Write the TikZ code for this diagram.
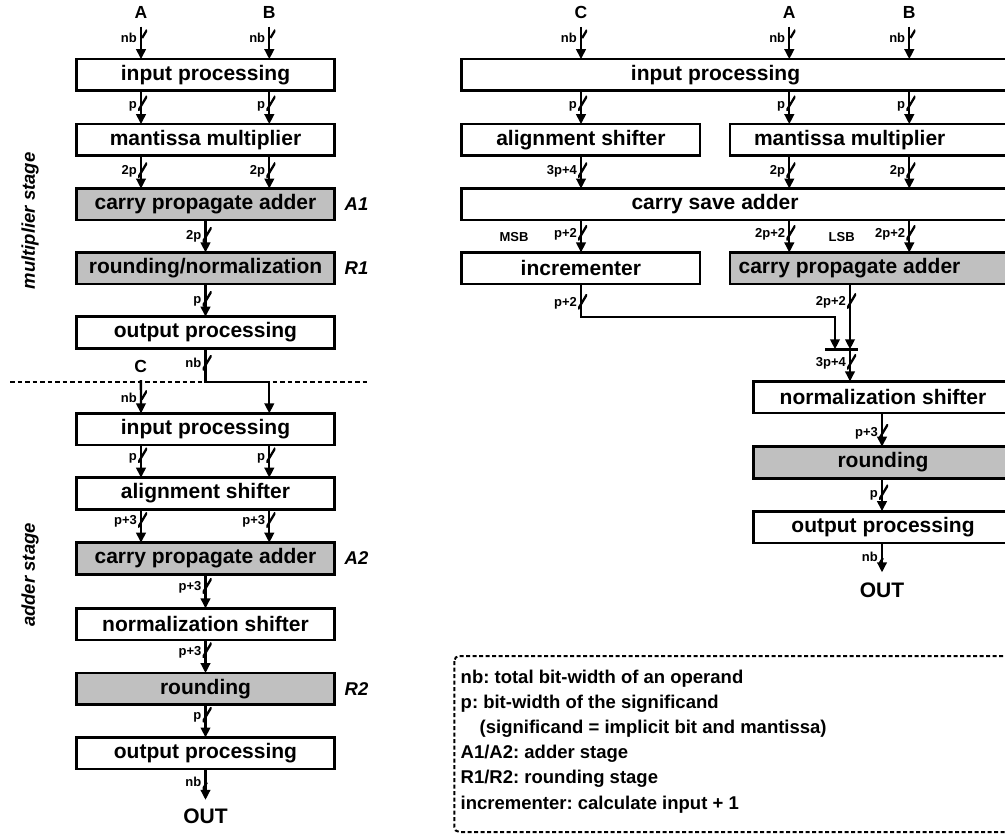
\documentclass[tikz,border=0pt]{standalone}
\usepackage{fontspec}
\setmainfont{Liberation Sans}
\usetikzlibrary{arrows.meta}
\definecolor{stagegray}{RGB}{192,192,192}
\frenchspacing
\tikzset{
  blk/.style={draw, line width=2.6, minimum height=31.6, inner sep=0, outer sep=0,
    font=\fontsize{21}{24}\selectfont\bfseries},
  blkL/.style={blk, minimum width=257.6},
  stagebox/.style={fill=stagegray},
  wire/.style={line width=2.3, -{Triangle[length=10pt,width=9.5pt]}},
  buslbl/.style={font=\fontsize{13}{15}\selectfont\bfseries, text height=9.5, text depth=0, inner sep=0},
  bus/.style={minimum width=9, minimum height=15, inner sep=0, outer sep=0, xshift=1.5,
    path picture={\draw[-, line width=2.3] (path picture bounding box.south west) -- (path picture bounding box.north east);},
    label distance=5, label={[buslbl]left:#1}},
  port/.style={font=\fontsize{17.5}{20}\selectfont\bfseries, inner sep=0},
  outlbl/.style={font=\fontsize{21}{24}\selectfont\bfseries, inner sep=0},
  stagetag/.style={font=\fontsize{18.5}{22}\selectfont\bfseries\itshape, inner sep=0},
  side/.style={font=\fontsize{13}{15}\selectfont\bfseries, inner sep=0},
  sep/.style={line width=2.2, dash pattern=on 4.5pt off 3pt},
  legendbox/.style={line width=2, dash pattern=on 4pt off 2.5pt, rounded corners=5},
  legendtxt/.style={font=\fontsize{18.5}{25.2}\selectfont\bfseries, align=left, inner sep=0},
}
\begin{document}
\begin{tikzpicture}[x=1pt, y=1pt]
\useasboundingbox (0,0) rectangle (1005,-834);
\clip (0,0) rectangle (1005,-834);

% ---------- left: multiplier stage ----------
\node[blkL] (ipA) at (205.5,-75) {input processing};
\node[blkL] (mmA) at (205.5,-140) {mantissa multiplier};
\node[blkL,stagebox] (cpaA) at (205.5,-204.4) {carry propagate adder};
\node[blkL,stagebox] (rnA) at (205.5,-268.3) {rounding/normalization};
\node[blkL] (opA) at (205.5,-332.5) {output processing};
% ---------- left: adder stage ----------
\node[blkL] (ipB) at (205.5,-429.2) {input processing};
\node[blkL] (asB) at (205.5,-493.5) {alignment shifter};
\node[blkL,stagebox] (cpaB) at (205.5,-558.5) {carry propagate adder};
\node[blkL] (nsB) at (205.5,-624.2) {normalization shifter};
\node[blkL,stagebox] (rdB) at (205.5,-688.9) {rounding};
\node[blkL] (opB) at (205.5,-753.3) {output processing};

% ---------- right: fused datapath ----------
\node[blk, minimum width=558.3] (ipR) at (740.85,-75) {input processing\hspace*{50.7pt}};
\node[blk, minimum width=238.3] (asR) at (580.85,-140) {alignment shifter};
\node[blk, minimum width=290] (mmR) at (875,-140) {mantissa multiplier\hspace*{50.6pt}};
\node[blk, minimum width=558.3] (csa) at (740.85,-204.4) {carry save adder\hspace*{51.7pt}};
\node[blk, minimum width=238.3] (inc) at (580.85,-268.3) {incrementer};
\node[blk,stagebox, minimum width=290] (cpaR) at (875,-268.3) {carry propagate adder\hspace*{51pt}};
\node[blk, minimum width=266.7] (nsR) at (886.65,-397.2) {normalization shifter\hspace*{7.3pt}};
\node[blk,stagebox, minimum width=266.7] (rdR) at (886.65,-462.5) {rounding\hspace*{7.3pt}};
\node[blk, minimum width=266.7] (opR) at (886.65,-527) {output processing\hspace*{7.3pt}};

% ---------- ports ----------
\node[port] (inA) at (141,-12.5) {A};
\node[port] (inB) at (269.3,-12.5) {B};
\node[port] (inC) at (140.8,-366.7) {C};
\node[outlbl] (outL) at (205.5,-816.5) {OUT};
\node[port] (rC) at (581,-12.5) {C};
\node[port] (rA) at (789.3,-12.5) {A};
\node[port] (rB) at (909.3,-12.5) {B};
\node[outlbl] (outR) at (882,-590) {OUT};

% ---------- stage tags ----------
\node[stagetag] (tA1) at (356.5,-204.4) {A1};
\node[stagetag] (tR1) at (356.5,-268.3) {R1};
\node[stagetag] (tA2) at (356.5,-558.5) {A2};
\node[stagetag] (tR2) at (356.5,-688.9) {R2};
\node[stagetag, rotate=90] (mstage) at (30,-221) {multiplier stage};
\node[stagetag, rotate=90] (astage) at (30,-575) {adder stage};

% column positions
\coordinate (xa) at (141,0);
\coordinate (xb) at (269.3,0);
\coordinate (xc) at (581,0);
\coordinate (xra) at (789.3,0);
\coordinate (xrb) at (909.3,0);
\coordinate (xn) at (882,0);

% ---------- left wiring ----------
\draw[wire, shorten <=8] (inA) -- node[bus=nb,pos=.46]{} (ipA.north -| xa);
\draw[wire, shorten <=8] (inB) -- node[bus=nb,pos=.46]{} (ipA.north -| xb);
\draw[wire] (ipA.south -| xa) -- node[bus=p,pos=.38]{} (mmA.north -| xa);
\draw[wire] (ipA.south -| xb) -- node[bus=p,pos=.38]{} (mmA.north -| xb);
\draw[wire] (mmA.south -| xa) -- node[bus=2p,pos=.44]{} (cpaA.north -| xa);
\draw[wire] (mmA.south -| xb) -- node[bus=2p,pos=.44]{} (cpaA.north -| xb);
\draw[wire] (cpaA) -- node[bus=2p,pos=.45]{} (rnA);
\draw[wire] (rnA) -- node[bus=p,pos=.45]{} (opA);
\coordinate (hop) at (205.5,-381.7);
\draw[wire] (opA) -- node[bus=nb,pos=.43]{} (hop) -| (ipB.north -| xb);
\draw[sep] (10,-381.7) -- (368,-381.7);
\draw[wire, shorten <=7] (inC) -- node[bus=nb,pos=.62]{} (ipB.north -| xa);
\draw[wire] (ipB.south -| xa) -- node[bus=p,pos=.32]{} (asB.north -| xa);
\draw[wire] (ipB.south -| xb) -- node[bus=p,pos=.32]{} (asB.north -| xb);
\draw[wire] (asB.south -| xa) -- node[bus=p+3,pos=.32]{} (cpaB.north -| xa);
\draw[wire] (asB.south -| xb) -- node[bus=p+3,pos=.32]{} (cpaB.north -| xb);
\draw[wire] (cpaB) -- node[bus=p+3,pos=.34]{} (nsB);
\draw[wire] (nsB) -- node[bus=p+3,pos=.31]{} (rdB);
\draw[wire] (rdB) -- node[bus=p,pos=.3]{} (opB);
\draw[wire, shorten >=9] (opB) -- node[bus=nb,pos=.33]{} (outL);

% ---------- right wiring ----------
\draw[wire, shorten <=8] (rC) -- node[bus=nb,pos=.46]{} (ipR.north -| xc);
\draw[wire, shorten <=8] (rA) -- node[bus=nb,pos=.46]{} (ipR.north -| xra);
\draw[wire, shorten <=8] (rB) -- node[bus=nb,pos=.46]{} (ipR.north -| xrb);
\draw[wire] (ipR.south -| xc) -- node[bus=p,pos=.38]{} (asR.north -| xc);
\draw[wire] (ipR.south -| xra) -- node[bus=p,pos=.38]{} (mmR.north -| xra);
\draw[wire] (ipR.south -| xrb) -- node[bus=p,pos=.38]{} (mmR.north -| xrb);
\draw[wire] (asR.south -| xc) -- node[bus=3p+4,pos=.44]{} (csa.north -| xc);
\draw[wire] (mmR.south -| xra) -- node[bus=2p,pos=.44]{} (csa.north -| xra);
\draw[wire] (mmR.south -| xrb) -- node[bus=2p,pos=.44]{} (csa.north -| xrb);
\draw[wire] (csa.south -| xc) -- node[bus=p+2,pos=.39]{} (inc.north -| xc);
\draw[wire] (csa.south -| xra) -- node[bus=2p+2,pos=.39]{} (cpaR.north -| xra);
\draw[wire] (csa.south -| xrb) -- node[bus=2p+2,pos=.39]{} (cpaR.north -| xrb);
\node[side] (msb) at (514,-236.7) {MSB};
\node[side] (lsb) at (841.7,-237) {LSB};

\coordinate (incbend) at (581,-316.7);
\coordinate (mergeA) at (835,-349.3);
\coordinate (mergeB) at (850,-349.3);
\coordinate (barW) at (825,-349.3);
\coordinate (barE) at (858.3,-349.3);
\draw[wire] (inc.south -| xc) -- node[bus=p+2,pos=.54]{} (incbend) -| (mergeA);
\draw[wire] (cpaR.south -| mergeB) -- node[bus=2p+2,pos=.26]{} (mergeB);
\draw[line width=3] (barW) -- (barE);
\draw[wire] (mergeB) -- node[bus=3p+4,pos=.39]{} (nsR.north -| mergeB);
\draw[wire] (nsR.south -| xn) -- node[bus=p+3,pos=.55]{} (rdR.north -| xn);
\draw[wire] (rdR.south -| xn) -- node[bus=p,pos=.43]{} (opR.north -| xn);
\draw[wire, shorten >=10] (opR.south -| xn) -- node[bus=nb,pos=.36]{} (outR);

% ---------- legend ----------
\draw[legendbox] (454.3,-656) rectangle (1030,-832);
\node[legendtxt, anchor=north west] (legend) at (460.5,-669.5)
  {nb: total bit-width of an operand\\
   p: bit-width of the significand\\
   \hspace*{19pt}(significand = implicit bit and mantissa)\\
   A1/A2: adder stage\\
   R1/R2: rounding stage\\
   incrementer: calculate input + 1};
\end{tikzpicture}
\end{document}
